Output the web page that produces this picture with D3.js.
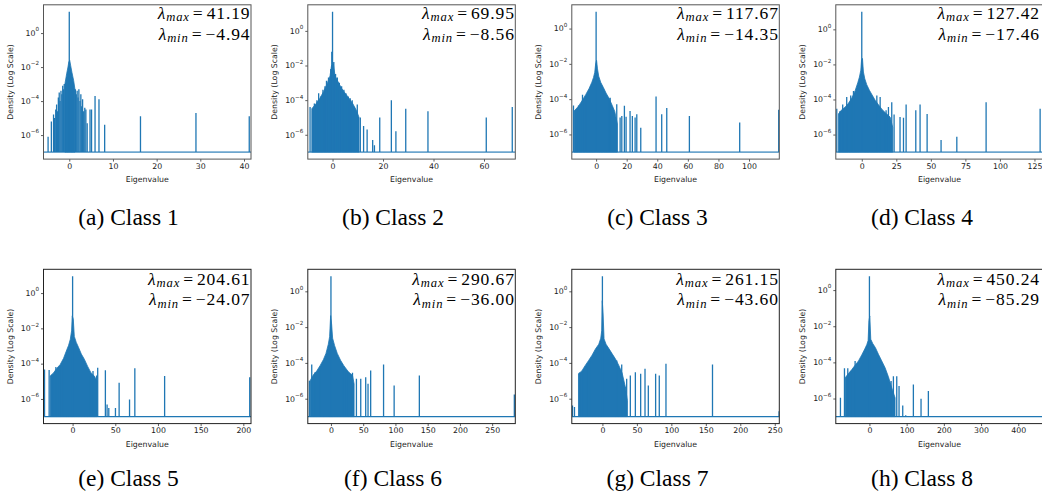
<!DOCTYPE html>
<html>
<head>
<meta charset="utf-8">
<script src="https://cdn.jsdelivr.net/npm/d3@7"></script>
<style>
  html, body { margin: 0; padding: 0; background: #fff; }
  svg { display: block; }
</style>
</head>
<body>
<svg id="chart" width="1042" height="493"></svg>
<script>
// ---------------- DATA ----------------
const captions = ["(a) Class 1", "(b) Class 2", "(c) Class 3", "(d) Class 4",
                  "(e) Class 5", "(f) Class 6", "(g) Class 7", "(h) Class 8"];
const lambdaMax = ["41.19", "69.95", "117.67", "127.42", "204.61", "290.67", "261.15", "450.24"];
const lambdaMin = ["−4.94", "−8.56", "−14.35", "−17.46", "−24.07", "−36.00", "−43.60", "−85.29"];
const xDomains = [[-5.9, 41.6], [-9.8, 72.4], [-15.9, 119.8], [-18.8, 131.4],
                  [-34.1, 209], [-35.9, 285.9], [-44.4, 256.6], [-90.4, 467.3]];
const xTicks = [[0, 10, 20, 30, 40], [0, 20, 40, 60], [0, 20, 40, 60, 80, 100], [0, 25, 50, 75, 100, 125],
                [0, 50, 100, 150, 200], [0, 50, 100, 150, 200, 250], [0, 50, 100, 150, 200, 250], [0, 100, 200, 300, 400]];
const yTickValues = [1, 1e-2, 1e-4, 1e-6];
const yTickExps = ["0", "−2", "−4", "−6"];
const floorDensity = 1e-7;

// dense central part of each spectrum: [eigenvalue, density]
const coreA = [[-1.0, 1e-3], [-0.6, 4e-3], [-0.3, 1e-2], [-0.1, 2e-2], [0.1, 2.5e-2], [0.3, 1.3e-2], [0.6, 5e-3], [1.0, 1.6e-3], [1.3, 5e-4]];
const coreB = [[-8.2, 3.2e-5], [-6.5, 6.3e-5], [-5, 1.3e-4], [-3.5, 3.2e-4], [-2, 1e-3], [-1, 2.5e-3], [-0.4, 1e-2], [0.3, 1.3e-2],
               [1, 2.5e-3], [2, 1.3e-3], [3.5, 5e-4], [5, 2.5e-4], [6.5, 1.3e-4], [8, 6.3e-5], [9.5, 2.5e-5], [10.5, 1e-5]];
const coreC = [[-14.4, 2.1e-5], [-11.5, 4e-5], [-8.9, 9e-5], [-6.8, 1.8e-4], [-4.6, 4e-4], [-2.8, 9e-4], [-1.7, 1.7e-3],
               [-0.9, 3.3e-3], [-0.3, 1e-2], [0.3, 1.6e-2], [0.9, 5.2e-3], [1.7, 2e-3], [3.0, 9e-4], [4.8, 4.5e-4],
               [6.5, 2.2e-4], [8.5, 1.1e-4], [10.5, 4.5e-5], [12.2, 2e-5], [13.9, 4e-6]];
const coreD = [[-16.9, 1.5e-5], [-14.5, 2.6e-5], [-12.1, 3.6e-5], [-9.7, 6e-5], [-7.2, 1.2e-4], [-4.8, 3.2e-4], [-2.9, 9e-4],
               [-1.7, 1.9e-3], [-0.7, 4.7e-3], [-0.2, 1.7e-2], [0.5, 2.2e-2], [1.2, 3.7e-3], [2.2, 1.5e-3], [3.6, 7e-4],
               [5.5, 3.4e-4], [7.5, 1.8e-4], [9.7, 9e-5], [12.1, 5e-5], [14.5, 2.8e-5], [17.6, 1.6e-5], [20.5, 1e-5], [22.4, 2.6e-6]];
const coreE = [[-26.3, 2e-5], [-22.4, 3e-5], [-18.4, 5.5e-5], [-14.5, 9e-5], [-10.6, 2e-4], [-7.5, 5e-4], [-4.7, 1.1e-3],
               [-2.7, 2.4e-3], [-1.2, 7.2e-3], [-0.4, 5.1e-2], [0.8, 3.3e-2], [2.0, 3.5e-3], [4.3, 1.6e-3], [7.1, 8e-4],
               [10.2, 3.5e-4], [13.7, 1.8e-4], [17.6, 7e-5], [21.6, 3e-5], [25.5, 2e-5], [28.6, 1e-5]];
const coreF = [[-32.3, 1e-5], [-27.2, 2.2e-5], [-22.1, 3.5e-5], [-16.9, 7e-5], [-11.8, 1.5e-4], [-7.7, 3.4e-4], [-4.1, 1.1e-3],
               [-2.1, 2.9e-3], [-0.5, 4.4e-2], [1.0, 1.5e-2], [2.6, 2.4e-3], [5.6, 9.5e-4], [9.8, 3.4e-4], [14.9, 1.4e-4],
               [20, 7e-5], [26.7, 3.3e-5], [33.4, 2e-5], [35.9, 6.8e-6]];
const coreG = [[-34.7, 2.5e-5], [-29.9, 3.5e-5], [-25.1, 7e-5], [-19.8, 1.4e-4], [-15, 2.7e-4], [-10.1, 6e-4], [-5.3, 1.1e-3],
               [-2.4, 2.4e-3], [-1, 6.4e-3], [-0.2, 0.3], [1.0, 5.4e-2], [2.4, 2.2e-3], [5.3, 1.1e-3], [9.2, 6.5e-4],
               [14, 3.3e-4], [18.8, 1.7e-4], [23.6, 7.5e-5], [28.5, 2.8e-5], [33.3, 4.5e-6], [36.2, 8e-7]];
const coreH = [[-65.3, 1.4e-5], [-56.4, 2.4e-5], [-47.4, 4e-5], [-38.5, 7e-5], [-29.5, 1.2e-4], [-20.6, 2.6e-4], [-12.5, 5.5e-4],
               [-7.2, 9.5e-4], [-3.6, 1.6e-3], [-1.3, 2e-2], [0.9, 3.7e-2], [3.6, 1.9e-3], [8.9, 1.1e-3], [16.1, 6.5e-4],
               [24.2, 2.8e-4], [33.1, 1.2e-4], [42.1, 5e-5], [51, 1.6e-5], [60, 3.9e-6], [68.9, 1.1e-6]];

// isolated peaks: [eigenvalue, density]
const spikesA = [[-4.85, 7.9e-7], [-4.1, 6.3e-6], [-3.6, 1.6e-5], [-3.35, 1e-5], [-3.1, 3.2e-5], [-2.9, 6.3e-5], [-2.7, 2.5e-5],
                 [-2.5, 1.6e-4], [-2.3, 3.2e-4], [-2.1, 1e-4], [-1.9, 4e-4], [-1.7, 2.5e-4], [-1.5, 7.9e-4], [-1.3, 5e-4],
                 [-1.15, 1e-3], [0, 17.8], [1.4, 5e-4], [1.6, 2.5e-4], [1.8, 4e-4], [2.0, 1.6e-4], [2.2, 5e-4], [2.45, 1e-4],
                 [2.65, 2.5e-4], [2.85, 5e-5], [3.05, 1.3e-4], [3.3, 2.5e-5], [3.55, 4e-5], [3.8, 3.2e-5], [4.1, 5e-6],
                 [4.75, 3.2e-5], [5.1, 3.2e-5], [5.9, 2e-4], [6.8, 1.3e-4], [8.1, 4e-6], [16.3, 1.3e-5], [29.0, 2e-5], [41.2, 1.3e-5]];
const spikesB = [[-8.9, 4e-5], [-7.9, 2.5e-5], [-7.2, 6.3e-5], [-6.2, 1e-4], [-5.5, 2.5e-4], [-4.6, 1.6e-4], [-3.8, 4e-4],
                 [-3.0, 6.3e-4], [-2.4, 1.3e-3], [-1.6, 2e-3], [-0.7, 6.3e-3], [-0.3, 6.3e-2], [0, 12.6], [0.5, 1.6e-2],
                 [1.2, 3.2e-3], [1.9, 2e-3], [2.7, 1e-3], [3.6, 6.3e-4], [4.5, 4e-4], [5.3, 2.5e-4], [6.2, 1.6e-4], [7.0, 1.3e-4],
                 [7.8, 1e-4], [8.6, 4e-5], [9.8, 5.6e-5], [11.0, 1e-5], [12.3, 3.2e-6], [13.7, 2e-6], [15.9, 5e-7], [16.6, 2.5e-7],
                 [18.7, 1e-5], [23.3, 1e-4], [25.1, 1.6e-6], [29, 3.2e-5], [37.8, 2.3e-5], [60.9, 1e-5], [71.2, 4e-5]];
const spikesC = [[-14.8, 4.4e-5], [-11.5, 4.4e-5], [-8.9, 1.8e-4], [-6.8, 1.3e-4], [0, 8.9], [8.3, 1.15e-4], [9.2, 1.2e-4],
                 [13.5, 5.1e-5], [15.7, 9e-6], [16.8, 1.1e-5], [18.5, 4.2e-5], [19.6, 1e-5], [22.2, 2.1e-5], [23.7, 1.1e-5],
                 [25.5, 9e-6], [26.6, 1.4e-5], [29.2, 2.4e-6], [39.2, 1.4e-4], [42.9, 1.4e-5], [46.2, 3.1e-5], [61, 1.1e-5],
                 [93.9, 4.7e-6], [119.4, 2.5e-5]];
const spikesD = [[-18.1, 3e-5], [-15.7, 2.2e-5], [-13.8, 5.2e-5], [-10.9, 1.4e-4], [-8.0, 1.7e-4], [-6.0, 3e-4], [0, 10],
                 [10.9, 1.7e-4], [13.3, 1.4e-4], [15.7, 1.9e-5], [17.6, 2.4e-5], [19.3, 3.7e-5], [21.7, 7e-5], [23.4, 1.4e-5],
                 [27.7, 1e-5], [30.2, 9e-6], [32.1, 5.2e-5], [39.1, 2.4e-5], [42.2, 5.2e-5], [47.3, 1.5e-5], [57.4, 4.9e-7],
                 [68.8, 7.6e-7], [90, 7e-5], [129.1, 3e-5]];
const spikesE = [[-32.9, 4.7e-5], [-27.5, 4.3e-5], [-23.1, 2e-5], [-19.6, 6.4e-5], [-15.3, 7.3e-5], [-11.4, 7.3e-5], [0, 8.9],
                 [18.8, 2e-5], [21.6, 2e-5], [23.9, 3.8e-5], [28.2, 2.1e-5], [29.4, 5.9e-5], [38.4, 4.2e-5], [40.4, 4.8e-7],
                 [42.4, 3.1e-7], [50.2, 3.1e-7], [54.5, 8.2e-6], [66.7, 9.3e-7], [72.9, 5.4e-5], [107.8, 2e-5], [207.5, 1.7e-5]];
const spikesF = [[-33.4, 1e-5], [-29.8, 8.1e-5], [-24.6, 3e-5], [-16.9, 3.8e-5], [0, 6.9], [19, 3.8e-5], [24.1, 3.3e-5],
                 [33.4, 2.8e-5], [39.5, 1.3e-5], [46.2, 1.3e-5], [53.9, 1.6e-5], [57.5, 6.8e-6], [61.6, 3.8e-5], [81.6, 8.1e-5],
                 [98, 5.5e-6], [137.1, 2e-5], [284.4, 1.7e-6]];
const spikesG = [[-43.4, 4.2e-7], [-40.5, 3.4e-7], [-33.3, 2.8e-5], [-28.5, 3.3e-5], [-22.7, 5.8e-5], [-17.9, 1.2e-4], [0, 6.9],
                 [20.8, 1.35e-4], [28, 8.1e-5], [32.8, 4.5e-6], [35.2, 1.3e-5], [40.5, 2e-5], [47.8, 3e-5], [55.5, 2.5e-5],
                 [61.8, 4.7e-5], [66.6, 5.5e-6], [77.2, 2.5e-5], [82.5, 2e-5], [92.2, 8.9e-5], [159.7, 8.1e-5], [256.3, 2e-7]];
const spikesH = [[-77.9, 1.1e-6], [-67.1, 4.7e-5], [-58.2, 4.7e-5], [-49.2, 3.3e-5], [-38.5, 1.2e-4], [0, 5.8],
                 [46.5, 1.4e-5], [58.2, 9.2e-6], [64.4, 1.7e-5], [73.4, 1.7e-5], [79.6, 4.9e-6], [89.5, 4.1e-7], [97.5, 1.2e-7],
                 [118.1, 6e-6], [138.7, 9.6e-7], [158.4, 2.6e-6]];

const cores = [coreA, coreB, coreC, coreD, coreE, coreF, coreG, coreH];
const spikes = [spikesA, spikesB, spikesC, spikesD, spikesE, spikesF, spikesG, spikesH];

// ---------------- LAYOUT / STYLE ----------------
const colLeft = [43.5, 307.8, 571.8, 835.8];
const rowTop = [4.8, 269.3];
const PW = 207.5, PH = 154.3;
const captionX = [128.5, 393, 657.5, 922];
const captionY = [224.5, 485.5];
const BLUE = "#1f77b4";
const SANS = "'DejaVu Sans', sans-serif";
const SERIF = "'Liberation Serif', 'Times New Roman', serif";
const ANN_FS = 17.5;

const svg = d3.select("#chart");

function buildAnn(t, sub, val) {
  t.attr("font-family", SERIF).attr("font-size", ANN_FS).attr("letter-spacing", 0.9);
  t.append("tspan").attr("font-style", "italic").text("λ");
  t.append("tspan").attr("font-style", "italic").attr("font-size", ANN_FS * 0.72).attr("dy", ANN_FS * 0.15).text(sub);
  t.append("tspan").attr("dy", -ANN_FS * 0.15).attr("dx", 3).text("=");
  t.append("tspan").attr("dx", 3).text(val);
}

captions.forEach((cap, i) => {
  const col = i % 4, row = Math.floor(i / 4);
  const g = svg.append("g").attr("transform", `translate(${colLeft[col]},${rowTop[row]})`);

  const x = d3.scaleLinear().domain(xDomains[i]).range([0, PW]);
  const allVals = cores[i].concat(spikes[i]).map(d => d[1]).concat([floorDensity]);
  const lo = Math.log10(d3.min(allVals)), hi = Math.log10(d3.max(allVals));
  const pad = 0.05 * (hi - lo);
  const y = d3.scaleLog().domain([Math.pow(10, lo - pad), Math.pow(10, hi + pad)]).range([PH, 0]);

  const clipId = "clip" + i;
  g.append("clipPath").attr("id", clipId).append("rect").attr("width", PW).attr("height", PH);
  const plot = g.append("g").attr("clip-path", `url(#${clipId})`);

  // floor line
  plot.append("path")
    .attr("d", d3.line().x(d => x(d)).y(() => y(floorDensity))(xDomains[i]))
    .attr("stroke", BLUE).attr("stroke-width", row === 0 ? 1.6 : 1.2)
    .attr("stroke-opacity", row === 0 ? 0.65 : 1).attr("fill", "none");

  // dense core
  plot.append("path")
    .attr("d", d3.area().x(d => x(d[0])).y0(y(floorDensity)).y1(d => y(d[1]))(cores[i]))
    .attr("fill", BLUE).attr("stroke", BLUE).attr("stroke-width", 0.8);

  // spikes
  plot.selectAll("line.spike").data(spikes[i]).join("line")
    .attr("class", "spike")
    .attr("x1", d => x(d[0])).attr("x2", d => x(d[0]))
    .attr("y1", y(floorDensity)).attr("y2", d => y(d[1]))
    .attr("stroke", BLUE).attr("stroke-width", 1.3);

  // x axis
  const xa = g.append("g").attr("transform", `translate(0,${PH})`)
    .call(d3.axisBottom(x).tickValues(xTicks[i]).tickSize(2.5).tickPadding(1.6).tickFormat(d3.format("d")));
  xa.select(".domain").remove();
  xa.selectAll("text").attr("font-family", SANS).attr("font-size", 7.8).attr("fill", "#222");
  xa.selectAll("line").attr("stroke", "#333").attr("stroke-width", 0.8);

  // y axis
  const ya = g.append("g")
    .call(d3.axisLeft(y).tickValues(yTickValues).tickSize(2.5).tickPadding(2).tickFormat(() => ""));
  ya.select(".domain").remove();
  ya.selectAll("line").attr("stroke", "#333").attr("stroke-width", 0.8);
  ya.selectAll(".tick text").each(function (d, k) {
    const t = d3.select(this).attr("font-family", SANS).attr("font-size", 7.8).attr("fill", "#222").attr("dy", "0.3em");
    t.append("tspan").text("10");
    t.append("tspan").attr("font-size", 5.6).attr("dy", "-0.8em").text(yTickExps[k]);
  });

  // frame
  g.append("rect").attr("width", PW).attr("height", PH)
    .attr("fill", "none").attr("stroke", row === 0 ? "#555" : "#222").attr("stroke-width", 1);

  // axis titles
  g.append("text").attr("x", PW / 2).attr("y", PH + 23)
    .attr("text-anchor", "middle").attr("font-family", SANS).attr("font-size", 7.8).attr("fill", "#222")
    .text("Eigenvalue");
  g.append("text").attr("transform", `translate(-30.5,${PH / 2}) rotate(-90)`)
    .attr("text-anchor", "middle").attr("font-family", SANS).attr("font-size", 7.8).attr("fill", "#222")
    .text("Density (Log Scale)");

  // lambda annotations, right-aligned at the frame edge (kept inside the page)
  const annRight = Math.min(PW - 0.5, 1040 - colLeft[col]);
  [["max", lambdaMax[i], 14], ["min", lambdaMin[i], 34.9]].forEach(([s, val, yy]) => {
    const t = g.append("text").attr("x", annRight).attr("y", yy + (row === 1 ? 1.2 : 0))
      .attr("text-anchor", "end").attr("fill", "#000");
    buildAnn(t, s, val);
  });

  // caption
  svg.append("text").attr("x", captionX[col]).attr("y", captionY[row])
    .attr("text-anchor", "middle").attr("font-family", SERIF)
    .attr("font-size", 23.5).attr("fill", "#000").text(cap);
});
</script>
</body>
</html>
